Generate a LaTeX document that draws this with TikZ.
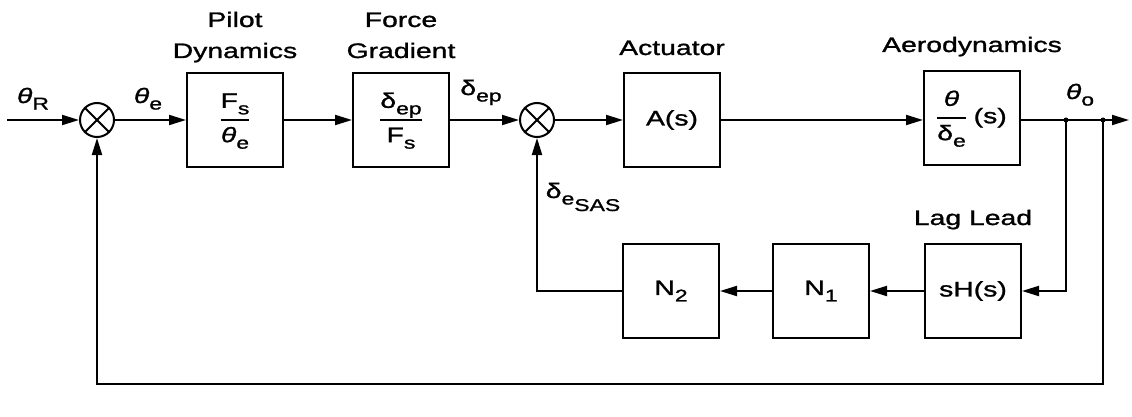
\documentclass[tikz,border=0pt]{standalone}
\usepackage{fontspec}
\setmainfont{Liberation Sans}[FakeStretch=1.35,FakeBold=1.2]
\usetikzlibrary{arrows.meta}
\newcommand\sbs[1]{\raisebox{-6.5pt}{\fontsize{17}{17}\selectfont #1}}
\newcommand\thv{\textit{θ}}
\newcommand\dl{δ}
\newcommand\fr[2]{{\setlength\arrayrulewidth{1.8pt}\setlength\tabcolsep{0pt}\begin{tabular}{c}#1\\[4pt]\hline\rule{0pt}{21pt}#2\end{tabular}}}
\begin{document}
\begin{tikzpicture}[x=1pt,y=-1pt,
  every node/.style={font=\fontsize{21}{25}\selectfont},
  blk/.style={draw,line width=2pt,minimum width=96pt,minimum height=94pt,inner sep=0pt},
  sumj/.style={draw,circle,line width=2pt,minimum size=34pt,inner sep=0pt},
  arr/.style={line width=2pt,-{Triangle[length=17pt,width=10pt]}},
  ln/.style={line width=2pt},
  lbl/.style={anchor=base,inner sep=0pt}]
\fill[white] (0,0) rectangle (1132,417);
\useasboundingbox (0,0) rectangle (1132,417);
% top row
\coordinate (in) at (7,120);
\node[sumj] (s1) at (97,120) {};
\node[blk] (pilot) at (235,120) {\fr{F\sbs{s}}{\thv\sbs{e}}};
\node[blk] (fg) at (401,120) {\fr{\dl\sbs{ep}}{F\sbs{s}}};
\node[sumj] (s2) at (537,120) {};
\node[blk] (act) at (672,120) {A(s)};
\node[blk] (aero) at (972,118) {\fr{\thv}{\dl\sbs{e}}\ (s)};
\coordinate (b1) at (1066,120);
\coordinate (b2) at (1103,120);
\coordinate (out) at (1129,120);
% bottom row
\node[blk] (lag) at (973,291) {sH(s)};
\node[blk] (n1) at (821,291) {N\sbs{1}};
\node[blk] (n2) at (671,291) {N\sbs{2}};
\coordinate (fb) at (97,384);
% crosses in summing junctions
\draw[ln] (s1.north west) -- (s1.south east) (s1.north east) -- (s1.south west);
\draw[ln] (s2.north west) -- (s2.south east) (s2.north east) -- (s2.south west);
% connectors
\draw[arr] (in) -- (s1);
\draw[arr] (s1) -- (pilot);
\draw[arr] (pilot) -- (fg);
\draw[arr] (fg) -- (s2);
\draw[arr] (s2) -- (act);
\draw[arr] (act) -- (act -| aero.west);
\draw[ln] (aero.east |- b1) -- (b1) -- (b2);
\draw[arr] (b2) -- (out);
\fill (b1) circle (2.5pt) (b2) circle (2.5pt);
\draw[arr] (b1) |- (lag);
\draw[arr] (lag) -- (n1);
\draw[arr] (n1) -- (n2);
\draw[arr] (n2) -| (s2);
\draw[arr] (b2) |- (fb) -- (s1);
% labels
\node[lbl] (tpilot) at (235,27) {Pilot};
\node[lbl] (tpilot2) at (235,58) {Dynamics};
\node[lbl] (tforce) at (401,27) {Force};
\node[lbl] (tforce2) at (401,58) {Gradient};
\node[lbl] (tact) at (672,55) {Actuator};
\node[lbl] (taero) at (972,52) {Aerodynamics};
\node[lbl] (tlag) at (973,225) {Lag Lead};
\node[lbl] (tR) at (33,103) {\thv\sbs{R}};
\node[lbl] (te) at (148,103) {\thv\sbs{e}};
\node[lbl] (tep) at (481,95) {\dl\sbs{ep}};
\node[lbl] (to) at (1080,99) {\thv\sbs{o}};
\node[lbl] (tsas) at (583,198) {\dl\sbs{e\sbs{SAS}}};
\end{tikzpicture}
\end{document}
